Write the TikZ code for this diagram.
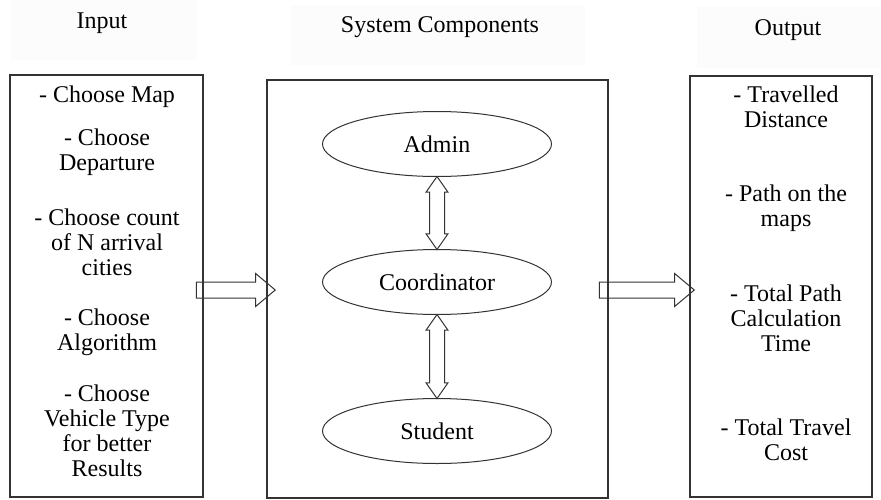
\documentclass[tikz,border=0pt]{standalone}
\usepackage{fontspec}
\setmainfont{Liberation Serif}
\usetikzlibrary{shapes.geometric,shapes.arrows}

\begin{document}
\begin{tikzpicture}[x=1pt,y=-1pt,
  txt/.style={font=\fontsize{24}{25}\selectfont,align=center,inner sep=0},
  head/.style={fill=black!1,inner sep=0},
  box/.style={draw=black!80,line width=1.2pt,inner sep=0},
  comp/.style={ellipse,draw=black!80,line width=1pt,minimum width=229,minimum height=65,inner sep=0,font=\fontsize{24}{25}\selectfont},
  bigarrow/.style={single arrow,draw=black!80,line width=1pt,inner xsep=0,inner ysep=7.5,single arrow head extend=8.5,single arrow tip angle=80},
  linkarrow/.style={double arrow,draw=black!80,line width=1pt,inner xsep=0,inner ysep=7,double arrow head extend=3.5,double arrow tip angle=70,rotate=90}]
\useasboundingbox (0,0) rectangle (881,499);

% header strips
\node[head,minimum width=187,minimum height=60] (hin) at (103.5,30) {};
\node[head,minimum width=295,minimum height=60] (hsys) at (437.5,35) {};
\node[head,minimum width=184,minimum height=61] (hout) at (789,37.5) {};
\node[txt] (tin) at (102,23) {Input};
\node[txt] (tsys) at (440,27) {System Components};
\node[txt] (tout) at (788,30) {Output};

% the three boxes
\node[box,minimum width=193,minimum height=422] (input) at (106.5,286) {};
\node[box,minimum width=341,minimum height=418] (sys) at (437.5,289) {};
\node[box,minimum width=182,minimum height=421] (output) at (781,286.5) {};

% input items
\node[txt] (in1) at (107,97) {- Choose Map};
\node[txt] (in2) at (107,152) {- Choose\\Departure};
\node[txt] (in3) at (107,242) {- Choose count\\of N arrival\\cities};
\node[txt] (in4) at (107,332) {- Choose\\Algorithm};
\node[txt] (in5) at (107,431) {- Choose\\Vehicle Type\\for better\\Results};

% components
\node[comp] (admin) at (437,144) {Admin};
\node[comp] (coord) at (437,282) {Coordinator};
\node[comp] (student) at (437,431) {Student};

\path (admin.south) -- (coord.north) node[midway,linkarrow,minimum height=73] {};
\path (coord.south) -- (student.north) node[midway,linkarrow,minimum height=84] {};

% output items
\node[txt] (out1) at (786,107) {- Travelled\\Distance};
\node[txt] (out2) at (786,208) {- Path on the\\maps};
\node[txt] (out3) at (786,318) {- Total Path\\Calculation\\Time};
\node[txt] (out4) at (786,440) {- Total Travel\\Cost};

% flow between boxes
\path (input.east |- 0,290) -- (sys.west |- 0,290) node[midway,bigarrow,minimum height=79,xshift=-4] {};
\path (sys.east |- 0,290) -- (output.west |- 0,290) node[midway,bigarrow,minimum height=95,xshift=-7] {};
\end{tikzpicture}
\end{document}
